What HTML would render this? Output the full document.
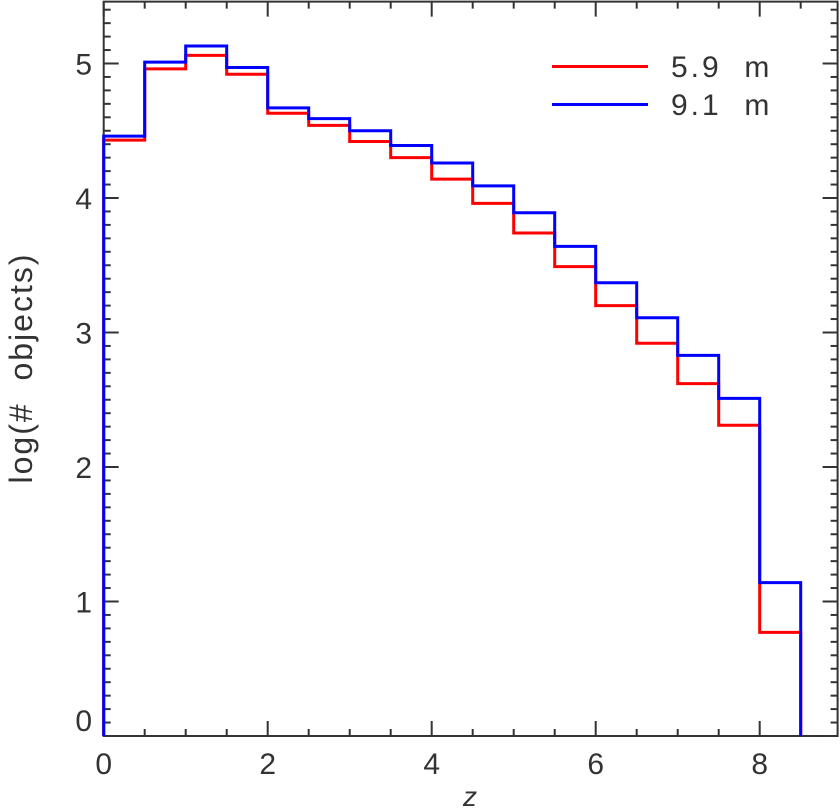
<!DOCTYPE html>
<html><head><meta charset="utf-8"><style>
body{margin:0;background:#fff;}
svg text{font-family:"Liberation Sans",sans-serif;fill:#333;}
</style></head><body>
<svg id="chart" width="840" height="807">
<g id="axes"></g><g id="series"></g>
<g>
 <line x1="552" y1="66.5" x2="648" y2="66.5" stroke="#f00" stroke-width="3"/>
 <text x="671" y="77" font-size="30" letter-spacing="3" xml:space="preserve">5.9  m</text>
 <line x1="552" y1="104.5" x2="648" y2="104.5" stroke="#00f" stroke-width="3"/>
 <text x="671" y="115" font-size="30" letter-spacing="3" xml:space="preserve">9.1  m</text>
</g>
<text x="470" y="806" font-size="28" font-style="italic" text-anchor="middle">z</text>
<text transform="translate(32,368) rotate(-90)" font-size="32" letter-spacing="2" xml:space="preserve" text-anchor="middle">log(#  objects)</text>
</svg>
<script>
const binEdges=[0,0.5,1,1.5,2,2.5,3,3.5,4,4.5,5,5.5,6,6.5,7,7.5,8,8.5];
const red59=[4.43,4.96,5.06,4.92,4.63,4.54,4.42,4.30,4.14,3.96,3.74,3.49,3.20,2.92,2.62,2.31,0.77];
const blue91=[4.46,5.01,5.13,4.97,4.67,4.59,4.50,4.39,4.26,4.09,3.89,3.64,3.37,3.11,2.83,2.51,1.14];
const xTicks=[0,2,4,6,8];
const yTicks=[0,1,2,3,4,5];
const X0=103.7,XS=82,Y0=736,YS=134.5,XMAX=8.95,YMAX=5.46;
const sx=v=>X0+v*XS, sy=v=>Y0-v*YS;
const NS="http://www.w3.org/2000/svg";
const ax=document.getElementById('axes'), se=document.getElementById('series');
function mk(tag,attrs,parent){const e=document.createElementNS(NS,tag);for(const k in attrs)e.setAttribute(k,attrs[k]);parent.appendChild(e);return e;}
const L=sx(0),R=sx(XMAX),T=sy(YMAX),B=sy(0);
const frame=mk('rect',{x:L,y:T,width:R-L,height:B-T,fill:'none',stroke:'#333','stroke-width':2},ax);


for(let v=0;v<=XMAX+1e-9;v+=0.5){
 const major=Math.abs(v-Math.round(v/2)*2)<1e-9;const len=major?15:7;
 mk('line',{x1:sx(v),y1:B,x2:sx(v),y2:B-len,stroke:'#333','stroke-width':2},ax);
 mk('line',{x1:sx(v),y1:T,x2:sx(v),y2:T+len,stroke:'#333','stroke-width':2},ax);
}
for(let i=0;i<=54;i++){const v=i/10;const major=i%10===0;const len=major?15:7;
 mk('line',{x1:L,y1:sy(v),x2:L+len,y2:sy(v),stroke:'#333','stroke-width':2},ax);
 mk('line',{x1:R,y1:sy(v),x2:R-len,y2:sy(v),stroke:'#333','stroke-width':2},ax);
}
xTicks.forEach(v=>{const t=mk('text',{x:sx(v),y:774,'font-size':30,'text-anchor':'middle'},ax);t.textContent=v;
 
 });
yTicks.forEach(v=>{const yy=v===0?sy(v)-5:sy(v)+11;const t=mk('text',{x:92,y:yy,'font-size':30,'text-anchor':'end'},ax);t.textContent=v;
 
 });
function stepPath(vals){let d='M'+sx(binEdges[0])+','+B;
 vals.forEach((v,i)=>{d+=' L'+sx(binEdges[i])+','+sy(v)+' L'+sx(binEdges[i+1])+','+sy(v);});
 d+=' L'+sx(binEdges[vals.length])+','+B;return d;}
const pr=mk('path',{d:stepPath(red59),fill:'none',stroke:'#f00','stroke-width':3},se);


const pb=mk('path',{d:stepPath(blue91),fill:'none',stroke:'#00f','stroke-width':3},se);


</script>
</body></html>
